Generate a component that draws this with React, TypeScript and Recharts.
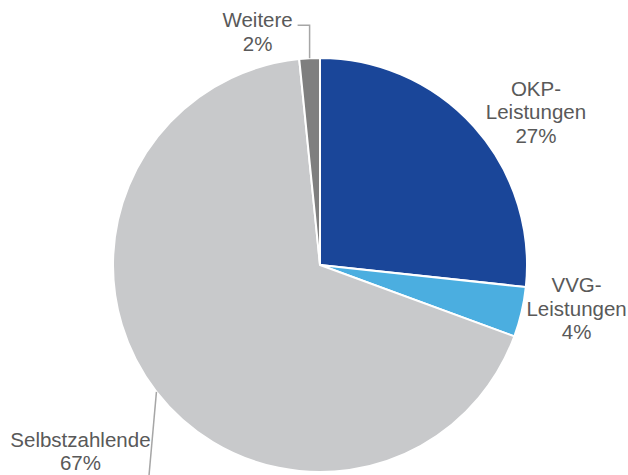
import { PieChart, Pie, Cell } from 'recharts';

const categories = ['OKP-\nLeistungen', 'VVG-\nLeistungen', 'Selbstzahlende', 'Weitere'];
// slice sizes; printed labels are rounded
const shares = [26.7, 3.9, 67.8, 1.6];
const shareLabels = ['27%', '4%', '67%', '2%'];
const colors = ['#1a4699', '#4baee0', '#c8c9cb', '#7f7f7f'];

// label placement relative to the slice's outer mid point
const labelLayout: Record<string, { dx: number; dy: number; line?: [number, number][] }> = {
  'OKP-\nLeistungen': { dx: 62, dy: -31 },
  'VVG-\nLeistungen': { dx: 55, dy: -20 },
  Selbstzahlende: { dx: -76, dy: 55, line: [[-8, 90]] },
  Weitere: { dx: -52, dy: -31, line: [[0, -33], [-12, -33]] },
};

const data = categories.map((name, i) => ({ name, value: shares[i], label: shareLabels[i] }));

const RADIAN = Math.PI / 180;
const LINE_H = 23.5;

function renderLabel(props: any) {
  const { cx, cy, midAngle, outerRadius, name, payload } = props;
  const mx = cx + outerRadius * Math.cos(-midAngle * RADIAN);
  const my = cy + outerRadius * Math.sin(-midAngle * RADIAN);
  const layout = labelLayout[name];
  const lines = [...name.split('\n'), payload.label];
  const x = mx + layout.dx;
  const y = my + layout.dy;
  let path = '';
  if (layout.line) {
    path = `M${mx},${my}` + layout.line.map(([px, py]) => ` L${mx + px},${my + py}`).join('');
  }
  return (
    <g key={name}>
      {path && <path d={path} stroke="#a6a6a6" strokeWidth={1.5} fill="none" />}
      <text
        x={x}
        y={y}
        textAnchor="middle"
        fill="#595959"
        fontSize={20.5}
        fontFamily="'Liberation Sans', Arial, sans-serif"
      >
        {lines.map((l: string, i: number) => (
          <tspan key={i} x={x} dy={i === 0 ? 0 : LINE_H}>
            {l}
          </tspan>
        ))}
      </text>
    </g>
  );
}

export default function App() {
  return (
    <div style={{ position: 'absolute', left: 0, top: 0, width: 628, height: 475, background: '#fff' }}>
      <PieChart width={628} height={475} margin={{ top: 0, right: 0, bottom: 0, left: 0 }}>
        <Pie
          data={data}
          dataKey="value"
          nameKey="name"
          cx={320}
          cy={265}
          outerRadius={207}
          startAngle={90}
          endAngle={-270}
          stroke="#ffffff"
          strokeWidth={2}
          label={renderLabel}
          labelLine={false}
          isAnimationActive={false}
        >
          {data.map((d, i) => (
            <Cell key={d.name} fill={colors[i]} />
          ))}
        </Pie>
      </PieChart>
    </div>
  );
}
